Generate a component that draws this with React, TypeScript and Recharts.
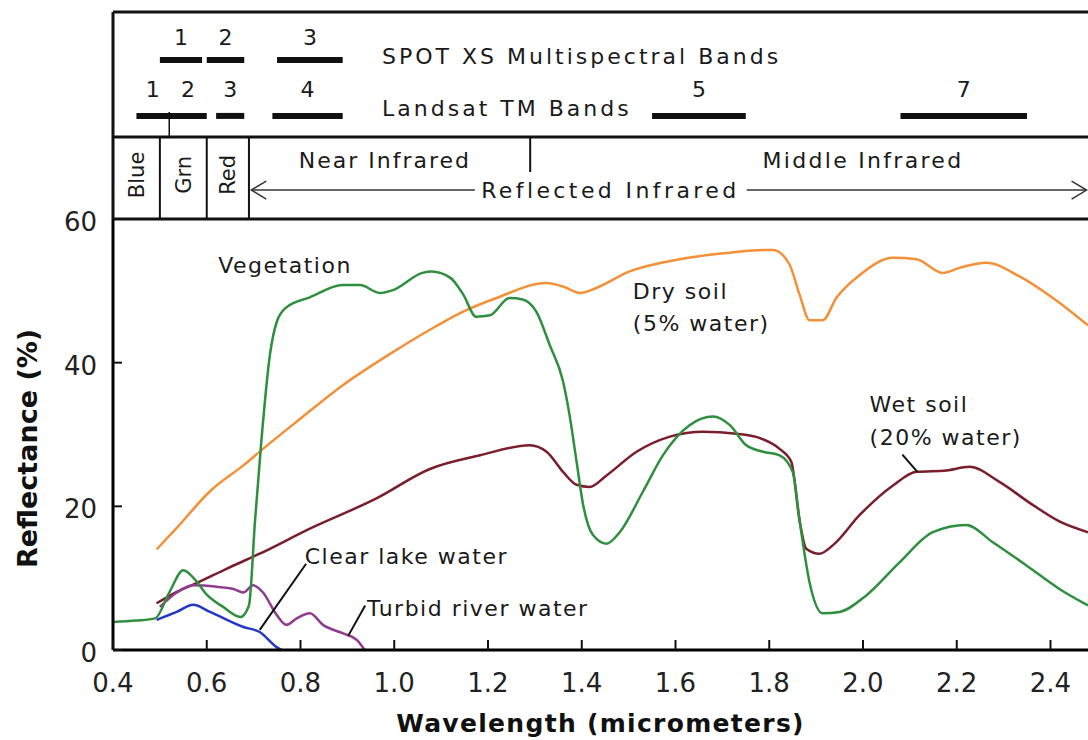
import React from "react";
import { ComposedChart, Line, XAxis, YAxis, ReferenceLine, ReferenceDot } from "recharts";

const FONT = "'DejaVu Sans', Verdana, sans-serif";
const INK = "#1a1a1a";

const X_DOMAIN: [number, number] = [0.4, 2.48];
const X_TICKS = [0.4, 0.6, 0.8, 1.0, 1.2, 1.4, 1.6, 1.8, 2.0, 2.2, 2.4];
const Y_TICKS = [0, 20, 40, 60];

// reflectance curves: [wavelength (µm), reflectance (%)]
const vegetation = [
  [0.4, 3.9], [0.45, 4.1], [0.49, 4.4], [0.52, 8.0], [0.55, 11.1], [0.575, 9.8], [0.6, 7.7],
  [0.635, 6.0], [0.672, 4.6], [0.69, 6.2], [0.703, 18], [0.717, 29.5], [0.735, 41.2], [0.75, 45.8],
  [0.77, 47.7], [0.82, 49.1], [0.89, 50.8], [0.927, 50.8], [0.969, 49.7], [0.997, 50.1], [1.06, 52.5],
  [1.08, 52.7], [1.12, 51.8], [1.147, 49.5], [1.175, 46.4], [1.204, 46.6], [1.246, 49.0], [1.274, 48.8],
  [1.303, 47.1], [1.332, 42.4], [1.36, 37.4], [1.374, 32.7], [1.389, 26.2], [1.403, 20.2], [1.424, 16.0],
  [1.453, 14.8], [1.481, 16.4], [1.531, 22.1], [1.573, 27.1], [1.63, 31.3], [1.68, 32.5], [1.716, 31.3],
  [1.751, 28.5], [1.787, 27.6], [1.822, 27.1], [1.85, 24.8], [1.865, 17.9], [1.886, 9.4], [1.914, 5.1],
  [1.95, 5.3], [2.007, 7.6], [2.078, 12.2], [2.149, 16.4], [2.22, 17.4], [2.277, 15.0], [2.348, 11.8],
  [2.419, 8.5], [2.48, 6.2],
];
const drySoil = [
  [0.493, 14.0], [0.536, 17.0], [0.607, 22.1], [0.678, 25.7], [0.72, 28.0], [0.792, 31.8], [0.891, 36.9],
  [0.998, 41.5], [1.09, 45.1], [1.147, 47.1], [1.218, 49.0], [1.325, 51.1], [1.36, 50.6], [1.396, 49.7],
  [1.431, 50.4], [1.502, 52.7], [1.609, 54.4], [1.716, 55.3], [1.787, 55.7], [1.808, 55.7], [1.843, 53.7],
  [1.865, 49.4], [1.886, 45.9], [1.914, 45.9], [1.943, 49.0], [1.993, 52.2], [2.064, 54.6], [2.114, 54.4],
  [2.17, 52.5], [2.206, 53.2], [2.263, 53.9], [2.334, 52.0], [2.405, 49.0], [2.48, 45.2],
];
const wetSoil = [
  [0.493, 6.5], [0.536, 8.1], [0.578, 9.3], [0.642, 11.3], [0.713, 13.4], [0.82, 16.9], [0.962, 21.1],
  [1.076, 25.2], [1.183, 27.1], [1.289, 28.5], [1.325, 27.6], [1.36, 24.8], [1.389, 23.0], [1.417, 22.7],
  [1.453, 24.3], [1.517, 27.6], [1.588, 29.7], [1.659, 30.4], [1.73, 30.1], [1.78, 29.5], [1.822, 28.0],
  [1.847, 26.2], [1.865, 17.9], [1.879, 14.1], [1.907, 13.4], [1.936, 14.6], [1.993, 18.8], [2.064, 22.9],
  [2.114, 24.8], [2.178, 25.0], [2.227, 25.5], [2.291, 23.4], [2.362, 20.2], [2.419, 17.9], [2.48, 16.4],
];
const clearLake = [
  [0.493, 4.2], [0.536, 5.3], [0.571, 6.3], [0.607, 5.3], [0.678, 3.2], [0.713, 2.5], [0.749, 0.4], [0.76, 0],
];
const turbidRiver = [
  [0.5, 6.0], [0.536, 8.0], [0.571, 9.0], [0.621, 8.8], [0.657, 8.5], [0.678, 8.0], [0.699, 9.0],
  [0.72, 8.0], [0.749, 4.9], [0.77, 3.5], [0.792, 4.4], [0.82, 5.1], [0.848, 3.5], [0.891, 2.3],
  [0.92, 1.4], [0.937, 0],
];

// sensor bands (µm)
const SPOT_BANDS = [
  { band: "1", from: 0.5, to: 0.59 },
  { band: "2", from: 0.6, to: 0.68 },
  { band: "3", from: 0.75, to: 0.89 },
];
const TM_BANDS = [
  { band: "1", from: 0.45, to: 0.52 },
  { band: "2", from: 0.52, to: 0.6 },
  { band: "3", from: 0.62, to: 0.68 },
  { band: "4", from: 0.74, to: 0.89 },
  { band: "5", from: 1.55, to: 1.75 },
  { band: "7", from: 2.08, to: 2.35 },
];
const COLOUR_BANDS = [
  { name: "Blue", from: 0.4, to: 0.5 },
  { name: "Grn", from: 0.5, to: 0.6 },
  { name: "Red", from: 0.6, to: 0.69 },
];
const NIR_MIR_SPLIT = 1.29;

// header rows (header y scale 0..10)
const ROW = {
  top: 10, spotNum: 8.8, spotTitle: 7.87, spot: 7.68, tmNum: 6.3, tmTitle: 5.34, tm: 4.98,
  tmTick: 5.17, split: 3.96, region: 2.85, splitTick: 2.27, colour: 2.13, arrow: 1.4,
};

const toPts = (arr: number[][]) => arr.map(([w, v]) => ({ w, v }));

type TextOpts = {
  anchor?: "start" | "middle" | "end";
  size?: number;
  spacing?: number;
  rotate?: boolean;
};
const textShape = (text: string, o: TextOpts = {}) => (p: any) => (
  <text
    x={p.cx}
    y={p.cy}
    dy="0.36em"
    textAnchor={o.anchor ?? "middle"}
    fontFamily={FONT}
    fontSize={o.size ?? 21}
    letterSpacing={o.spacing ?? 0}
    fill={INK}
    transform={o.rotate ? `rotate(-90 ${p.cx} ${p.cy})` : undefined}
  >
    {text}
  </text>
);

const arrowShape = (headAt: "start" | "end") => (p: any) => {
  const { x1, y1, x2, y2 } = p;
  const tx = headAt === "start" ? x1 : x2;
  const dir = headAt === "start" ? 1 : -1;
  return (
    <g stroke="#333" strokeWidth={1.5} fill="none">
      <line x1={x1} y1={y1} x2={x2} y2={y2} />
      <polyline points={`${tx + dir * 15},${y1 - 9} ${tx},${y1} ${tx + dir * 15},${y1 + 9}`} />
    </g>
  );
};

function XTick({ x, y, payload }: any) {
  return (
    <g>
      <line x1={x} x2={x} y1={y} y2={y - 10} stroke="#111" strokeWidth={2} />
      <text x={x} y={y + 42} textAnchor="middle" fontFamily={FONT} fontSize={26} fill="#222">
        {Number(payload.value).toFixed(1)}
      </text>
    </g>
  );
}

function YTick({ x, y, payload }: any) {
  return (
    <g>
      <line x1={x} x2={x + 9} y1={y} y2={y} stroke="#111" strokeWidth={2} />
      <text x={x - 16} y={y + 12} textAnchor="end" fontFamily={FONT} fontSize={26} fill="#222">
        {payload.value}
      </text>
    </g>
  );
}

const xTitle = (p: any) => {
  const vb = p.viewBox;
  return (
    <text x={vb.x + vb.width / 2} y={vb.y + 82} textAnchor="middle" fontFamily={FONT}
      fontSize={25} fontWeight="bold" letterSpacing={1.3} fill="#111">
      Wavelength (micrometers)
    </text>
  );
};

const yTitle = (p: any) => {
  const vb = p.viewBox;
  const cx = vb.x + 27;
  const cy = vb.y + vb.height / 2 + 14;
  return (
    <text x={cx} y={cy} dy="0.36em" textAnchor="middle" fontFamily={FONT} fontSize={27}
      fontWeight="bold" fill="#111" transform={`rotate(-90 ${cx} ${cy})`}>
      Reflectance (%)
    </text>
  );
};

const SERIES = [
  { name: "Dry soil", data: drySoil, color: "#F39038" },
  { name: "Wet soil", data: wetSoil, color: "#7A1E2C" },
  { name: "Turbid river water", data: turbidRiver, color: "#8E3B91" },
  { name: "Clear lake water", data: clearLake, color: "#2338C6" },
  { name: "Vegetation", data: vegetation, color: "#2E8F3E" },
];

function Header() {
  const thick = { stroke: "#111", strokeWidth: 3 };
  const thin = { stroke: "#111", strokeWidth: 2 };
  return (
    <ComposedChart
      width={1088}
      height={230}
      margin={{ top: 12, right: 0, bottom: 11, left: 113 }}
      style={{ position: "absolute", left: 0, top: 0 }}
    >
      <XAxis type="number" dataKey="w" domain={X_DOMAIN} hide allowDataOverflow />
      <YAxis type="number" domain={[0, 10]} hide allowDataOverflow />
      <ReferenceLine y={ROW.top} {...thick} />
      <ReferenceLine y={ROW.split} {...thick} />
      <ReferenceLine y={0} {...thick} />
      <ReferenceLine x={X_DOMAIN[0]} {...thick} />

      {SPOT_BANDS.map((b) => (
        <ReferenceLine key={`s${b.band}`} segment={[{ x: b.from, y: ROW.spot }, { x: b.to, y: ROW.spot }]}
          stroke="#111" strokeWidth={6} />
      ))}
      {SPOT_BANDS.map((b) => (
        <ReferenceDot key={`sn${b.band}`} x={(b.from + b.to) / 2} y={ROW.spotNum}
          shape={textShape(b.band, { size: 22 })} />
      ))}
      <ReferenceDot x={0.974} y={ROW.spotTitle}
        shape={textShape("SPOT XS Multispectral Bands", { anchor: "start", size: 22, spacing: 3 })} />

      {TM_BANDS.map((b) => (
        <ReferenceLine key={`t${b.band}`} segment={[{ x: b.from, y: ROW.tm }, { x: b.to, y: ROW.tm }]}
          stroke="#111" strokeWidth={6} />
      ))}
      {TM_BANDS.map((b) => (
        <ReferenceDot key={`tn${b.band}`} x={(b.from + b.to) / 2} y={ROW.tmNum}
          shape={textShape(b.band, { size: 22 })} />
      ))}
      <ReferenceLine segment={[{ x: TM_BANDS[0].to, y: ROW.tmTick }, { x: TM_BANDS[0].to, y: ROW.split }]}
        stroke="#111" strokeWidth={1.5} />
      <ReferenceDot x={0.974} y={ROW.tmTitle}
        shape={textShape("Landsat TM Bands", { anchor: "start", size: 22, spacing: 3 })} />

      {COLOUR_BANDS.map((c) => (
        <ReferenceLine key={`c${c.name}`} segment={[{ x: c.to, y: 0 }, { x: c.to, y: ROW.split }]} {...thin} />
      ))}
      {COLOUR_BANDS.map((c) => (
        <ReferenceDot key={`cn${c.name}`} x={(c.from + c.to) / 2} y={ROW.colour}
          shape={textShape(c.name, { rotate: true })} />
      ))}

      <ReferenceLine segment={[{ x: NIR_MIR_SPLIT, y: ROW.splitTick }, { x: NIR_MIR_SPLIT, y: ROW.split }]} {...thin} />
      <ReferenceDot x={0.98} y={ROW.region} shape={textShape("Near Infrared", { size: 22, spacing: 2 })} />
      <ReferenceDot x={2.0} y={ROW.region} shape={textShape("Middle Infrared", { size: 22, spacing: 2.3 })} />
      <ReferenceDot x={1.461} y={ROW.arrow} shape={textShape("Reflected Infrared", { size: 22, spacing: 3.4 })} />
      <ReferenceLine segment={[{ x: 0.695, y: ROW.arrow }, { x: 1.172, y: ROW.arrow }]} shape={arrowShape("start")} />
      <ReferenceLine segment={[{ x: 1.752, y: ROW.arrow }, { x: 2.477, y: ROW.arrow }]} shape={arrowShape("end")} />
    </ComposedChart>
  );
}

export default function App() {
  const note = { anchor: "start" as const, size: 22, spacing: 1.5 };
  return (
    <div style={{ position: "relative", width: 1088, height: 740, background: "#fff" }}>
      <style>{"body{margin:0}"}</style>
      <ComposedChart
        width={1088}
        height={740}
        margin={{ top: 219, right: 0, bottom: 0, left: 0 }}
        style={{ position: "absolute", left: 0, top: 0 }}
      >
        <XAxis type="number" dataKey="w" domain={X_DOMAIN} ticks={X_TICKS} interval={0} allowDataOverflow
          height={90} tickSize={0} tickMargin={0} tickLine={false}
          axisLine={{ stroke: "#000", strokeWidth: 3 }} tick={<XTick />} label={xTitle} />
        <YAxis type="number" domain={[0, 60]} ticks={Y_TICKS} interval={0} allowDataOverflow
          width={113} tickSize={0} tickMargin={0} tickLine={false}
          axisLine={{ stroke: "#000", strokeWidth: 3 }} tick={<YTick />} label={yTitle} />

        {SERIES.map((s) => (
          <Line key={s.name} data={toPts(s.data)} dataKey="v" name={s.name} type="monotone"
            stroke={s.color} strokeWidth={2.5} dot={false} activeDot={false} isAnimationActive={false} />
        ))}

        <ReferenceDot x={0.767} y={53.6} shape={textShape("Vegetation", { size: 22, spacing: 1.5 })} />
        <ReferenceDot x={1.509} y={50.0} shape={textShape("Dry soil", note)} />
        <ReferenceDot x={1.509} y={45.5} shape={textShape("(5% water)", note)} />
        <ReferenceDot x={2.014} y={34.3} shape={textShape("Wet soil", note)} />
        <ReferenceDot x={2.014} y={29.7} shape={textShape("(20% water)", note)} />
        <ReferenceDot x={0.809} y={13.1} shape={textShape("Clear lake water", note)} />
        <ReferenceDot x={0.942} y={5.85} shape={textShape("Turbid river water", note)} />

        <ReferenceLine segment={[{ x: 0.812, y: 12.0 }, { x: 0.713, y: 2.8 }]} stroke="#111" strokeWidth={2} />
        <ReferenceLine segment={[{ x: 0.938, y: 6.2 }, { x: 0.902, y: 2.0 }]} stroke="#111" strokeWidth={2} />
        <ReferenceLine segment={[{ x: 2.084, y: 27.2 }, { x: 2.116, y: 24.8 }]} stroke="#111" strokeWidth={2} />
      </ComposedChart>
      <Header />
    </div>
  );
}
